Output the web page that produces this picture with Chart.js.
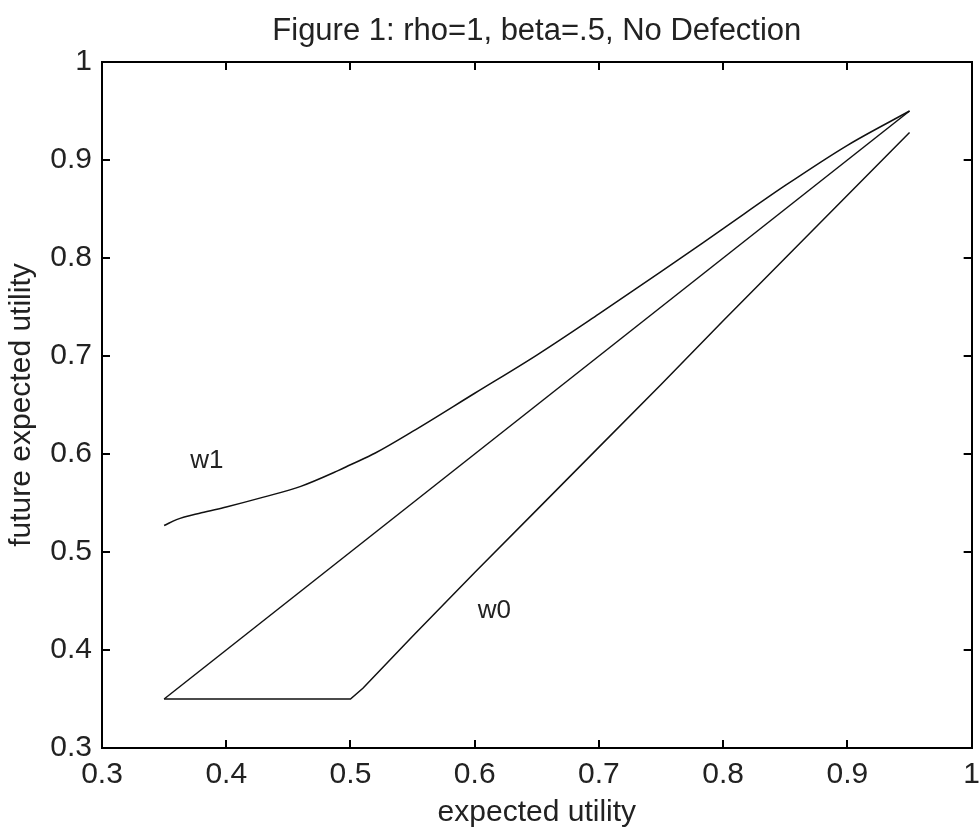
<!DOCTYPE html>
<html>
<head>
<meta charset="utf-8">
<title>Figure 1</title>
<script src="https://cdn.jsdelivr.net/npm/chart.js@4.4.1/dist/chart.umd.min.js"></script>
<style>
    html, body { margin: 0; padding: 0; background: #fff; }
    #grafico { display: block; }
</style>
</head>
<body>
<canvas id="grafico" width="980" height="836"></canvas>
<script>
// curva w1
const xW1 = [0.35, 0.36, 0.38, 0.40, 0.43, 0.46, 0.49, 0.50, 0.52, 0.55, 0.60, 0.65, 0.70, 0.75, 0.80, 0.85, 0.90, 0.95];
const yW1 = [0.527, 0.533, 0.540, 0.546, 0.556, 0.567, 0.583, 0.589, 0.601, 0.623, 0.662, 0.701, 0.743, 0.786, 0.830, 0.874, 0.915, 0.950];

// curva w0
const xW0 = [0.35, 0.40, 0.45, 0.50, 0.51, 0.55, 0.60, 0.65, 0.70, 0.75, 0.80, 0.85, 0.90, 0.95];
const yW0 = [0.35, 0.35, 0.35, 0.35, 0.361, 0.414, 0.479, 0.543, 0.607, 0.671, 0.736, 0.800, 0.864, 0.928];

// linea de 45 grados
const xDiag = [0.35, 0.95];
const yDiag = [0.35, 0.95];

// ticks de los ejes
const ticksX = [0.3, 0.4, 0.5, 0.6, 0.7, 0.8, 0.9, 1];
const ticksY = [0.3, 0.4, 0.5, 0.6, 0.7, 0.8, 0.9, 1];

// etiquetas sobre las curvas
const etiquetas = ['w1', 'w0'];
const etiquetasX = [0.371, 0.6025];
const etiquetasY = [0.593, 0.440];

const fuente = "'Liberation Sans', Arial, sans-serif";
const colorTexto = '#222';
const colorLinea = '#111';

Chart.defaults.font.family = fuente;
Chart.defaults.color = colorTexto;

const puntos = (xs, ys) => xs.map((x, i) => ({ x: x, y: ys[i] }));

const serie = (nombre, xs, ys, suave) => ({
    label: nombre,
    data: puntos(xs, ys),
    showLine: true,
    borderColor: colorLinea,
    borderWidth: 1.5,
    pointRadius: 0,
    cubicInterpolationMode: suave ? 'monotone' : 'default',
    tension: 0,
    fill: false
});

// ticks hacia adentro en los cuatro lados
const ejeBase = (ticks) => ({
    type: 'linear',
    min: ticks[0],
    max: ticks[ticks.length - 1],
    afterBuildTicks: (scale) => { scale.ticks = ticks.map(v => ({ value: v })); },
    border: { display: true, color: '#000', width: 2 },
    grid: { drawOnChartArea: false, drawTicks: true, tickLength: -8, color: '#000', lineWidth: 2 }
});

const etiquetasPlugin = {
    id: 'etiquetas',
    afterDatasetsDraw(chart) {
        const { ctx, scales } = chart;
        ctx.save();
        ctx.font = `26px ${fuente}`;
        ctx.fillStyle = colorTexto;
        ctx.textAlign = 'left';
        ctx.textBaseline = 'middle';
        etiquetas.forEach((txt, i) => {
            ctx.fillText(txt, scales.x.getPixelForValue(etiquetasX[i]), scales.y.getPixelForValue(etiquetasY[i]));
        });
        ctx.restore();
    }
};

const ctx = document.getElementById('grafico').getContext('2d');
const grafico = new Chart(ctx, {
    type: 'scatter',
    data: {
        datasets: [
            serie('w1', xW1, yW1, true),
            serie('45', xDiag, yDiag, false),
            serie('w0', xW0, yW0, false)
        ]
    },
    options: {
        responsive: false,
        animation: false,
        layout: { padding: { left: 0, right: 8, top: 0, bottom: 0 } },
        plugins: {
            legend: { display: false },
            tooltip: { enabled: false },
            title: { display: false }
        },
        scales: {
            x: {
                ...ejeBase(ticksX),
                position: 'bottom',
                afterFit: (scale) => { scale.height = 88; },
                ticks: {
                    // el alto de linea baja las etiquetas sin sumar margen a la derecha
                    padding: 0,
                    maxRotation: 0,
                    autoSkip: false,
                    font: { size: 30, lineHeight: 70 / 30 },
                    callback: (v) => String(+v.toFixed(1))
                },
                title: {
                    display: true,
                    text: 'expected utility',
                    font: { size: 30, lineHeight: 1.2 },
                    padding: { top: 0, bottom: 5 }
                }
            },
            y: {
                ...ejeBase(ticksY),
                position: 'left',
                afterFit: (scale) => { scale.width = 102; },
                ticks: {
                    padding: 18,
                    autoSkip: false,
                    font: { size: 30, lineHeight: 1.2 },
                    callback: (v) => String(+v.toFixed(1))
                },
                title: {
                    display: true,
                    text: 'future expected utility',
                    font: { size: 30, lineHeight: 1.2 },
                    padding: { top: 4, bottom: 0 }
                }
            },
            // eje superior: lleva el titulo centrado sobre el area del grafico
            x2: {
                ...ejeBase(ticksX),
                position: 'top',
                afterFit: (scale) => { scale.height = 62; },
                ticks: { display: false },
                title: {
                    display: true,
                    text: 'Figure 1: rho=1, beta=.5, No Defection',
                    color: colorTexto,
                    font: { size: 31, lineHeight: 1.2 },
                    padding: { top: 13, bottom: 0 }
                }
            },
            y2: {
                ...ejeBase(ticksY),
                position: 'right',
                afterFit: (scale) => { scale.width = 0; },
                ticks: { display: false }
            }
        }
    },
    plugins: [etiquetasPlugin]
});
</script>
</body>
</html>
